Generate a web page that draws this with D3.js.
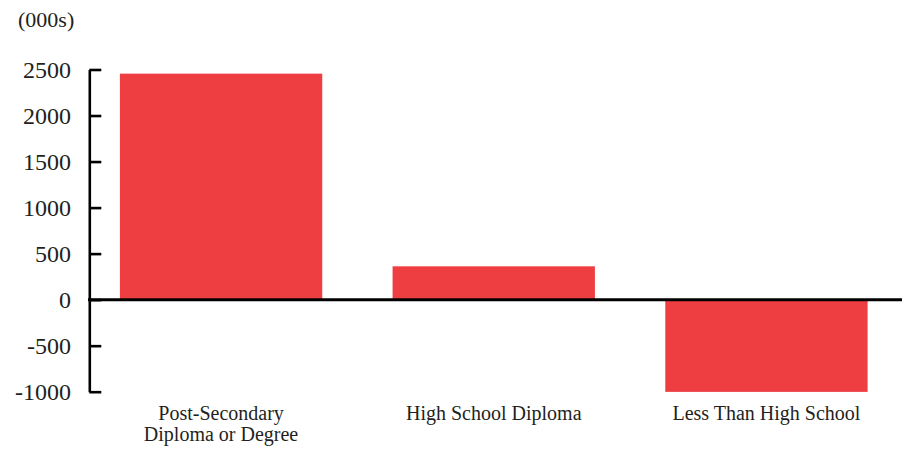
<!DOCTYPE html>
<html>
<head>
<meta charset="utf-8">
<script src="https://cdn.jsdelivr.net/npm/d3@7"></script>
<style>
    body { margin: 0; background: #fff; }
    text { font-family: "Liberation Serif", "DejaVu Serif", serif; fill: #231f20; }
</style>
</head>
<body>
<div id="chart"></div>
<script>
// values in thousands
const categories = ["Post-Secondary\nDiploma or Degree", "High School Diploma", "Less Than High School"]
const values = [2455, 362, -1002]
const yTicks = [-1000, -500, 0, 500, 1000, 1500, 2000, 2500]
const unitLabel = "(000s)"

var width = 902
var height = 449

const svg = d3.select("#chart")
    .append("svg")
    .attr("width", width)
    .attr("height", height)

var yScale = d3.scaleLinear()
    .domain([-1000, 2500])
    .range([391.7, 69.5])

var xScale = d3.scaleBand()
    .domain(categories)
    .range([88, 899.5])
    .paddingInner(0.258)
    .paddingOuter(0.117)

// bars
svg.selectAll("rect.bar")
    .data(values)
    .enter()
    .append("rect")
    .attr("class", "bar")
    .attr("x", (d, i) => xScale(categories[i]))
    .attr("width", xScale.bandwidth())
    .attr("y", d => yScale(Math.max(0, d)))
    .attr("height", d => Math.abs(yScale(d) - yScale(0)))
    .style("fill", "#ef3e42")

// y axis: ticks point inward, labels drawn separately
var yAxis = svg.append("g")
    .attr("transform", "translate(89.3,0)")
    .call(d3.axisRight(yScale).tickValues(yTicks).tickSize(12).tickSizeOuter(0).tickFormat(""))
yAxis.select(".domain").attr("stroke", "#000").attr("stroke-width", 2.6)
yAxis.selectAll(".tick line").attr("stroke", "#000").attr("stroke-width", 2.6)

svg.selectAll("text.ylab")
    .data(yTicks)
    .enter()
    .append("text")
    .attr("class", "ylab")
    .attr("x", 71)
    .attr("y", d => yScale(d))
    .attr("dy", "0.35em")
    .attr("text-anchor", "end")
    .style("font-size", "24px")
    .text(d => d)

svg.append("text")
    .attr("x", 18)
    .attr("y", 27)
    .style("font-size", "22px")
    .text(unitLabel)

// zero line
svg.append("line")
    .attr("x1", 88)
    .attr("x2", width)
    .attr("y1", yScale(0))
    .attr("y2", yScale(0))
    .attr("stroke", "#000")
    .attr("stroke-width", 3)

// category labels
svg.selectAll("text.xlab")
    .data(categories)
    .enter()
    .append("text")
    .attr("class", "xlab")
    .attr("x", d => xScale(d) + xScale.bandwidth() / 2)
    .attr("y", 420)
    .attr("text-anchor", "middle")
    .style("font-size", "20px")
    .each(function (d) {
        d.split("\n").forEach((line, i) => {
            d3.select(this).append("tspan")
                .attr("x", xScale(d) + xScale.bandwidth() / 2)
                .attr("dy", i === 0 ? 0 : 20.5)
                .text(line)
        })
    })
</script>
</body>
</html>
